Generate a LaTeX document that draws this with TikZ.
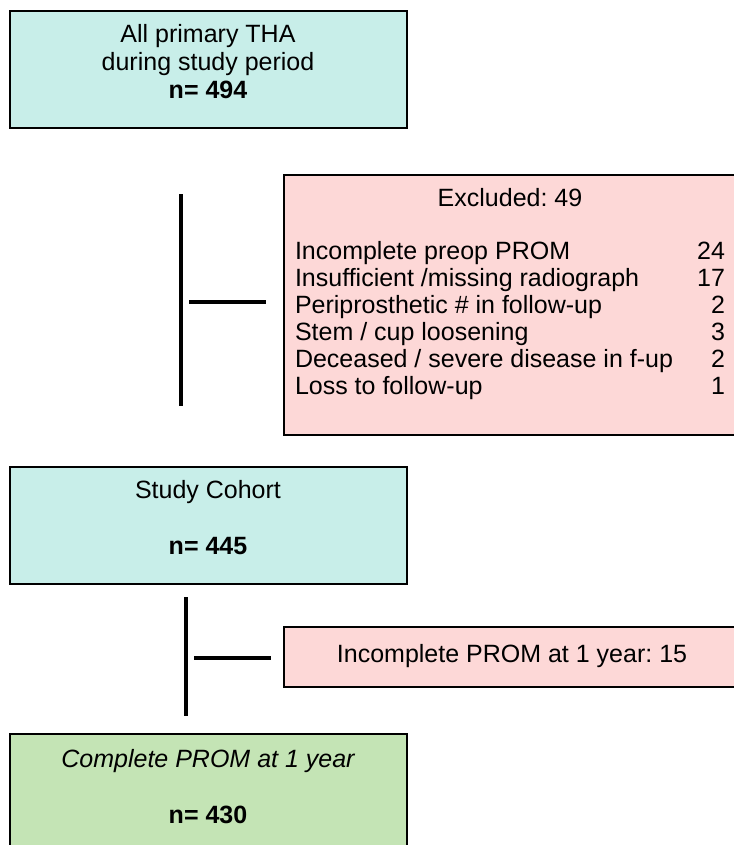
\documentclass[tikz,border=0pt]{standalone}
\usepackage{fontspec}
\setmainfont{Liberation Sans}
\usetikzlibrary{positioning}
\frenchspacing
\definecolor{cohortcyan}{RGB}{200,238,233}
\definecolor{exclpink}{RGB}{253,216,215}
\definecolor{finalgreen}{RGB}{196,228,181}
\tikzstyle{flowbox} = [rectangle, draw=black, line width=2pt, inner sep=0pt, minimum width=397pt, minimum height=117pt]
\tikzstyle{mainbox} = [flowbox, fill=cohortcyan]
\tikzstyle{exclbox} = [flowbox, fill=exclpink, minimum width=456pt]
\tikzstyle{boxtext} = [inner sep=0pt, anchor=north, font=\fontsize{25}{28}\selectfont]
\tikzstyle{bar} = [line width=4pt]

\begin{document}
\begin{tikzpicture}[x=1pt, y=-1pt]
			\useasboundingbox (0,0) rectangle (733,845);
			\node(all)[mainbox] at (208,70) {};
			\node(alltxt)[boxtext, below=12pt of all.north] {\begin{tabular}{@{}c@{}}All primary THA\\during study period\\\textbf{n= 494}\end{tabular}};
			\node(excl)[exclbox, minimum height=260pt] at (512,305) {};
			\node(excltxt)[boxtext, below=13pt of excl.north, xshift=-2pt, font=\fontsize{25}{27}\selectfont] {\begin{tabular*}{430pt}{@{}l@{\extracolsep{\fill}}r@{}}
				\multicolumn{2}{c}{Excluded: 49}\\[26pt]
				Incomplete preop PROM & 24\\
				Insufficient /missing radiograph & 17\\
				Periprosthetic \# in follow-up & 2\\
				Stem / cup loosening & 3\\
				Deceased / severe disease in f-up & 2\\
				Loss to follow-up & 1
			\end{tabular*}};
			\node(cohort)[mainbox] at (208,525.5) {};
			\node(cohorttxt)[boxtext, below=13pt of cohort.north] {\begin{tabular}{@{}c@{}}Study Cohort\\[28pt]\textbf{n= 445}\end{tabular}};
			\node(incompl)[exclbox, minimum height=60pt] at (512,656.5) {};
			\node(incompltxt)[inner sep=0pt, font=\fontsize{25}{28}\selectfont] at (incompl) {Incomplete PROM at 1 year: 15};
			\node(final)[flowbox, fill=finalgreen] at (208,792) {};
			\node(finaltxt)[boxtext, below=15pt of final.north] {\begin{tabular}{@{}c@{}}\itshape Complete PROM at 1 year\\[28pt]\textbf{n= 430}\end{tabular}};
			% side bars
			\coordinate(bar1top) at (181,194);
			\coordinate(bar1mid) at (181,302);
			\coordinate(bar1bot) at (181,406);
			\coordinate(bar2top) at (186,597);
			\coordinate(bar2mid) at (186,658);
			\coordinate(bar2bot) at (186,716);
			\draw [bar] (bar1top) -- (bar1bot);
			\draw [bar, shorten <=8pt, shorten >=17pt] (bar1mid) -- (bar1mid -| excl.west);
			\draw [bar] (bar2top) -- (bar2bot);
			\draw [bar, shorten <=8pt, shorten >=12pt] (bar2mid) -- (bar2mid -| incompl.west);
		\end{tikzpicture}
\end{document}
